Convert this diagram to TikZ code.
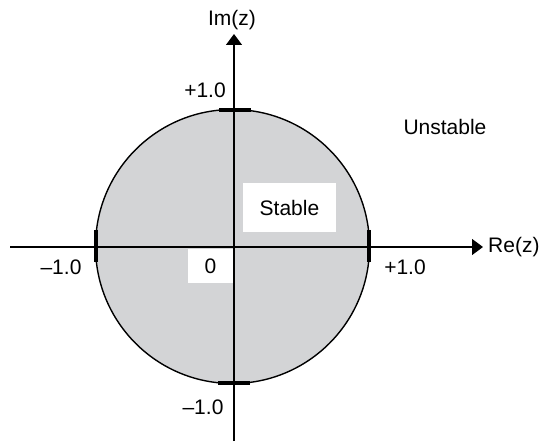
\documentclass[tikz,border=0pt]{standalone}
\usepackage{fontspec}
\setmainfont{Liberation Sans}
\usetikzlibrary{arrows.meta,positioning}

\definecolor{stablegray}{HTML}{D3D4D6}

\begin{document}
\begin{tikzpicture}[x=1pt, y=-1pt, >={Triangle[length=11pt,width=16pt]},
  every node/.style={font=\fontsize{21}{25}\selectfont, inner sep=0pt},
  axis/.style={line width=1.3pt, ->},
  tick/.style={line width=4pt},
  whitebox/.style={fill=white, minimum width=#1}]
\path[use as bounding box] (0,0) rectangle (542,444);
\coordinate (O) at (232.5,246.5);
\fill[stablegray, draw=black, line width=1.4pt] (O) circle[radius=137];
\coordinate (reL) at (10,247);
\coordinate (reR) at (483,247);
\coordinate (imB) at (234,441);
\coordinate (imT) at (234,34);
\node[whitebox=93pt, minimum height=49pt] (stable) at (289.5,207.5) {Stable};
\node[whitebox=45pt, minimum height=34pt] (zero) at (210.5,266) {0};
\draw[axis] (reL) -- (reR);
\draw[axis] (imB) -- (imT);
\draw[tick] (219,110) -- (251,110);
\draw[tick] (218,383) -- (250,383);
\draw[tick] (96,230) -- (96,262);
\draw[tick] (369,230) -- (369,262);
\node (im) at (232,20) {Im(z)};
\node[anchor=west] (re) at (488,247) {Re(z)};
\node (ptop) at (205,90) {+1.0};
\node (mleft) at (61,267) {–1.0};
\node (pright) at (405,267) {+1.0};
\node (mbottom) at (203,407) {–1.0};
\node (unstable) at (445,127) {Unstable};
\end{tikzpicture}
\end{document}
